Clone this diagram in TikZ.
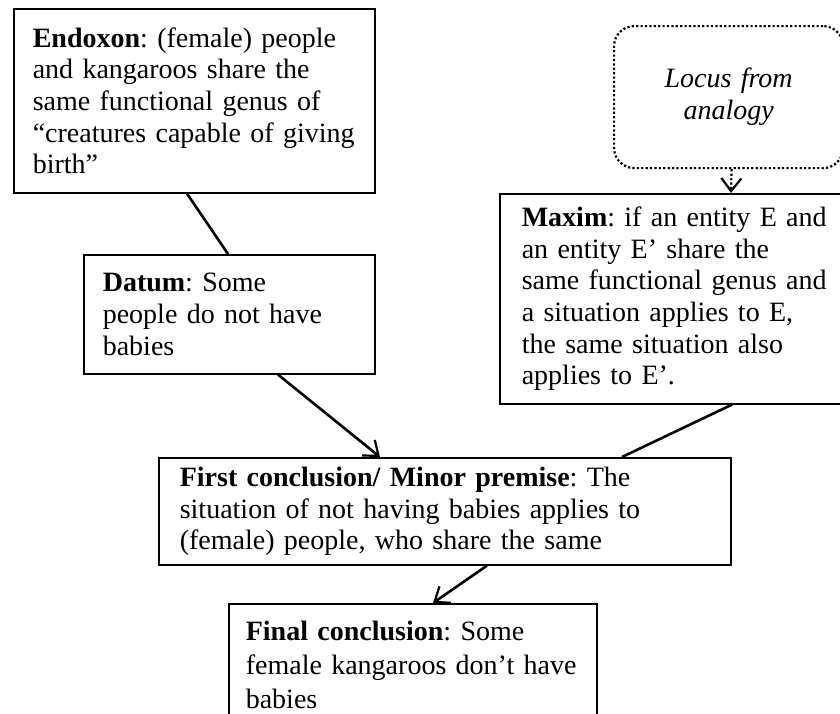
\documentclass[tikz,border=0pt]{standalone}
\usepackage{fontspec}
\setmainfont{Liberation Serif}
\usetikzlibrary{arrows.meta,calc}
\frenchspacing

\tikzset{
	argbox/.style={draw, line width=1.6pt, anchor=north west, align=left,
		inner xsep=19pt, inner ysep=0pt, font=\fontsize{28}{31.7}\selectfont},
	locusbox/.style={draw, line width=2.2pt, dash pattern=on 2.2pt off 2.2pt,
		rounded corners=20pt, anchor=north west, align=center,
		inner xsep=19pt, inner ysep=0pt, font=\fontsize{28}{32}\selectfont\itshape},
	link/.style={line width=2.6pt},
	arrowlink/.style={link, -{Straight Barb[length=13pt,width=20pt,line width=2.2pt]}},
}

\begin{document}
\begin{tikzpicture}[x=1pt,y=-1pt]
		\clip (0,0) rectangle (840,713);
		% boxes
		\node[argbox, text width=323pt, minimum height=184pt] (endoxon) at (13,8)
			{\textbf{Endoxon}: (female) people\\and kangaroos share the\\same functional genus of\\“creatures capable of giving\\birth”};
		\node[argbox, text width=253pt, minimum height=119pt] (datum) at (83,254)
			{\textbf{Datum}: Some\\people do not have\\babies};
		\node[locusbox, text width=191pt, minimum height=142pt] (locus) at (613,25)
			{Locus from\\analogy};
		\node[argbox, text width=323pt, minimum height=210pt, inner xsep=22pt] (maxim) at (499,193)
			{\textbf{Maxim}: if an entity E and\\an entity E’ share the\\same functional genus and\\a situation applies to E,\\the same situation also\\applies to E’.};
		\node[argbox, text width=530pt, minimum height=107pt, inner xsep=21pt] (first) at (158,457)
			{\textbf{First conclusion/ Minor premise}: The\\situation of not having babies applies to\\(female) people, who share the same};
		\node[argbox, text width=334pt, minimum height=122pt, inner xsep=17pt,
			font=\fontsize{28}{34}\selectfont] (final) at (228,603)
			{\textbf{Final conclusion}: Some\\female kangaroos don’t have\\babies};
		% connectors
		\draw[link] ($(endoxon.south west)+(174,0)$) -- ($(datum.north west)+(145,0)$);
		\draw[arrowlink] ($(datum.south west)+(195,0)$) -- ($(first.north west)+(222,0)$);
		\draw[link] ($(maxim.south west)+(233,0)$) -- ($(first.north west)+(464,0)$);
		\draw[arrowlink] ($(first.south west)+(329,0)$) -- ($(final.north west)+(205,0)$);
		\draw[arrowlink, line width=2.2pt, dash pattern=on 2.2pt off 2.2pt]
			($(locus.south)+(3,0)$) -- ($(maxim.north west)+(232,0)$);
	\end{tikzpicture}
\end{document}
